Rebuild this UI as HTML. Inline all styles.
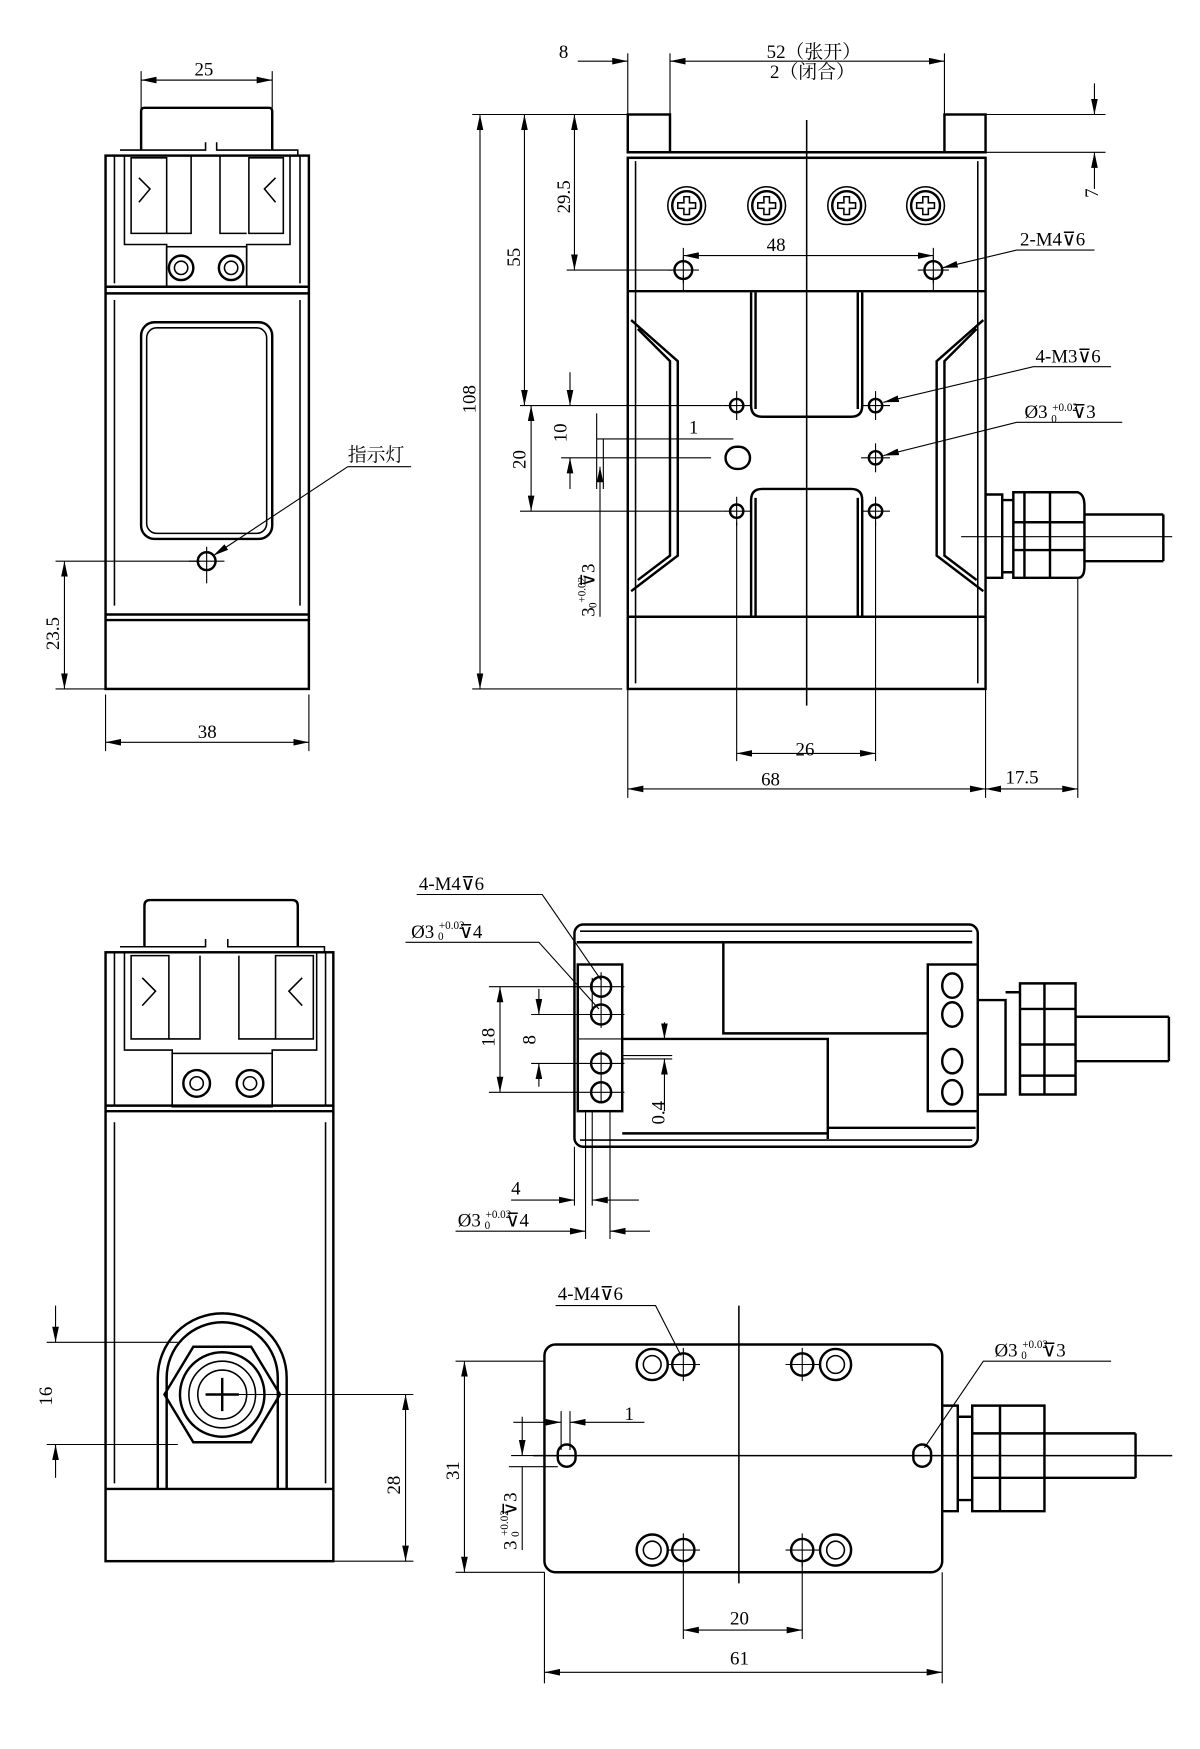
<!DOCTYPE html>
<html><head><meta charset="utf-8"><style>
html,body{margin:0;padding:0;background:#fff}
svg{display:block}
text{font-family:"Liberation Serif","Noto Serif CJK SC",serif;font-size:17px;fill:#000}
.t{fill:none;stroke:#000;stroke-width:2.2}
.m{fill:none;stroke:#000;stroke-width:1.4}
.d{fill:none;stroke:#000;stroke-width:1}
</style></head><body>
<svg width="1200" height="1749" viewBox="0 0 1080 1574" xmlns="http://www.w3.org/2000/svg">
<defs>
<marker id="a" viewBox="0 0 14 6" refX="14" refY="3" markerWidth="14" markerHeight="6" markerUnits="userSpaceOnUse" orient="auto-start-reverse"><path d="M0,0 L14,3 L0,6z" fill="#000"/></marker>
<g id="scr"><circle r="17" class="m"/><circle r="13" class="t"/><path d="M-8,-2.5h5.5v-5.5h5v5.5h5.5v5h-5.5v5.5h-5v-5.5h-5.5z" class="m"/></g>
<g id="hole"><circle r="8" class="t"/><path d="M-14,0h28M0,-12v24" class="d"/></g>
</defs>

<!-- ===== TOP LEFT VIEW ===== -->
<g>
<path d="M127,135 V100 Q127,97 130,97 H242 Q245,97 245,100 V135" class="t"/>
<rect x="95" y="140" width="183" height="480" class="t"/>
<path d="M108,135 H185 V128 M195,128 V135 H268 V140" class="m"/>
<path d="M103,140 V255 M270,140 V255 M112,140 V220 H150 V258 M261,140 V220 H222 V258" class="m"/>
<path d="M118,142 H150 V210 H118z M224,142 H255 V210 H224z" class="m"/>
<path d="M125,160 L135,170 L125,182 M248,160 L238,170 L248,182" class="m"/>
<path d="M150,210 H172 V140 M222,210 H198 V140" class="m"/>
<rect x="150" y="222" width="72" height="36" class="m"/>
<circle cx="163" cy="241" r="11" class="t"/><circle cx="163" cy="241" r="6" class="m"/>
<circle cx="208" cy="241" r="11" class="t"/><circle cx="208" cy="241" r="6" class="m"/>
<path d="M95,258 H278 M95,264 H278 M95,553 H278 M95,558 H278" class="t"/>
<path d="M103,270 V545 M270,270 V545" class="m"/>
<rect x="127" y="290" width="118" height="195" rx="12" class="t"/>
<rect x="132" y="295" width="108" height="185" rx="9" class="m"/>
<circle cx="186" cy="505" r="8" class="t"/><path d="M170,505h32M186,492v33" class="d"/>
<path d="M313,420 H370 M313,420 L192,500" class="d" marker-end="url(#a)"/>
<text x="313" y="415">指示灯</text>
<path d="M127,97 V64 M245,97 V64 M127,72 H245" class="d"/>
<path d="M127,72 H245" class="d" marker-start="url(#a)" marker-end="url(#a)"/>
<text x="175" y="68">25</text>
<path d="M95,625 V676 M278,625 V676" class="d"/>
<path d="M95,668 H278" class="d" marker-start="url(#a)" marker-end="url(#a)"/>
<text x="178" y="664">38</text>
<path d="M50,505 H180 M50,620 H95" class="d"/>
<path d="M58,505 V620" class="d" marker-start="url(#a)" marker-end="url(#a)"/>
<text transform="translate(53,585) rotate(-90)">23.5</text>
</g>

<!-- ===== TOP RIGHT VIEW ===== -->
<g>
<rect x="565" y="103" width="38" height="34" class="t"/>
<rect x="850" y="103" width="37" height="34" class="t"/>
<path d="M565,137 H887 M565,142 H887" class="t"/>
<rect x="565" y="142" width="322" height="478" class="t"/>
<path d="M572,145 V615 M880,145 V615" class="m"/>
<use href="#scr" x="618" y="185"/><use href="#scr" x="690" y="185"/><use href="#scr" x="762" y="185"/><use href="#scr" x="833" y="185"/>
<use href="#hole" x="615" y="243"/><use href="#hole" x="840" y="243"/>
<path d="M565,262 H887" class="t"/>
<path d="M676,263 V365 Q676,375 686,375 H766 Q776,375 776,365 V263 M680,263 V368 M772,263 V368" class="t"/>
<path d="M676,555 V450 Q676,440 686,440 H766 Q776,440 776,450 V555 M680,555 V448 M772,555 V448" class="t"/>
<path d="M568,288 L610,325 V500 L568,532 M574,296 L603,325 V500 L574,522" class="t"/>
<path d="M885,288 L843,325 V500 L885,532 M879,296 L850,325 V500 L879,522" class="t"/>
<circle cx="663" cy="365" r="6" class="t"/><circle cx="788" cy="365" r="6" class="t"/>
<circle cx="663" cy="460" r="6" class="t"/><circle cx="788" cy="460" r="6" class="t"/>
<circle cx="788" cy="412" r="6" class="t"/>
<rect x="653" y="402" width="22" height="20" rx="10" class="t"/>
<path d="M650,365h26M663,352v26M775,365h26M788,352v26M650,460h26M663,447v26M775,460h26M788,447v26M775,412h26M788,399v26" class="d"/>
<path d="M565,555 H887" class="t"/>
<path d="M726,108 V635" class="m"/>
<path d="M887,445 H902 V520 H887 M902,450 H912 V515 H902 M912,443 H970 Q976,445 976,455 V510 Q976,520 970,520 H912z M922,443 V520 M945,443 V520 M912,470 H976 M912,495 H976" class="t"/>
<path d="M976,463 H1047 M976,505 H1047 M1047,463 V505" class="t"/>
<path d="M865,483 H1055" class="d"/>
<!-- dims -->
<path d="M565,103 V48 M603,103 V48 M850,103 V48" class="d"/>
<path d="M520,55 H565" class="d" marker-end="url(#a)"/>
<path d="M603,55 H850" class="d" marker-start="url(#a)" marker-end="url(#a)"/>
<text x="503" y="52">8</text>
<text x="690" y="52">52（张开）</text>
<text x="693" y="70">2（闭合）</text>
<path d="M887,103 H995 M887,137 H995" class="d"/>
<path d="M985,75 V103" class="d" marker-end="url(#a)"/>
<path d="M985,170 V137" class="d" marker-end="url(#a)"/>
<text transform="translate(988,178) rotate(-90)">7</text>
<path d="M425,103 H565 M425,620 H560" class="d"/>
<path d="M432,103 V620" class="d" marker-start="url(#a)" marker-end="url(#a)"/>
<text transform="translate(428,372) rotate(-90)">108</text>
<path d="M472,103 V365" class="d" marker-start="url(#a)" marker-end="url(#a)"/>
<text transform="translate(468,240) rotate(-90)">55</text>
<path d="M510,243 H605" class="d"/>
<path d="M517,103 V243" class="d" marker-start="url(#a)" marker-end="url(#a)"/>
<text transform="translate(513,192) rotate(-90)">29.5</text>
<path d="M468,365 H650 M468,460 H650 M505,412 H640" class="d"/>
<path d="M478,365 V460" class="d" marker-start="url(#a)" marker-end="url(#a)"/>
<text transform="translate(473,422) rotate(-90)">20</text>
<path d="M513,335 V365" class="d" marker-end="url(#a)"/>
<path d="M513,440 V412" class="d" marker-end="url(#a)"/>
<text transform="translate(510,398) rotate(-90)">10</text>
<path d="M537,372 V440 M543,395 V440" class="d"/>
<path d="M537,395 H660" class="d"/>
<text x="620" y="390">1</text>
<path d="M540,420 V555" class="d" marker-start="url(#a)"/>
<text transform="translate(535,555) rotate(-90)">3 <tspan font-size="10" dy="-8">+0.02</tspan><tspan font-size="10" dx="-28" dy="10">0</tspan><tspan dx="14" dy="-2">⊽3</tspan></text>
<path d="M615,248 V262 M840,248 V262 M615,223 V238 M840,223 V238" class="d"/>
<path d="M615,230 H840" class="d" marker-start="url(#a)" marker-end="url(#a)"/>
<text x="690" y="226">48</text>
<path d="M985,225 H915 L848,241" class="d" marker-end="url(#a)"/>
<text x="918" y="221">2-M4⊽6</text>
<path d="M1000,330 H930 L795,362" class="d" marker-end="url(#a)"/>
<text x="932" y="326">4-M3⊽6</text>
<path d="M1010,380 H915 L795,410" class="d" marker-end="url(#a)"/>
<text x="922" y="376">Ø3 <tspan font-size="10" dy="-6">+0.02</tspan><tspan font-size="10" dx="-24" dy="10">0</tspan><tspan dx="14" dy="-4">⊽3</tspan></text>
<path d="M663,470 V685 M788,470 V685" class="d"/>
<path d="M663,678 H788" class="d" marker-start="url(#a)" marker-end="url(#a)"/>
<text x="716" y="680">26</text>
<path d="M565,620 V718 M887,620 V718 M970,520 V718" class="d"/>
<path d="M565,710 H887" class="d" marker-start="url(#a)" marker-end="url(#a)"/>
<text x="685" y="707">68</text>
<path d="M887,710 H970" class="d" marker-start="url(#a)" marker-end="url(#a)"/>
<text x="905" y="705">17.5</text>
</g>

<!-- ===== BOTTOM LEFT VIEW ===== -->
<g>
<path d="M130,852 V815 Q130,810 135,810 H263 Q268,810 268,815 V852" class="t"/>
<rect x="95" y="857" width="205" height="548" class="t"/>
<path d="M108,852 H185 V845 M205,845 V852 H292 V857" class="m"/>
<path d="M103,857 V995 M293,857 V995 M112,857 V945 H155 V995 M285,857 V945 H245 V995" class="m"/>
<path d="M118,860 H152 V935 H118z M248,860 H282 V935 H248z" class="m"/>
<path d="M128,880 L140,892 L128,905 M272,880 L260,892 L272,905" class="m"/>
<path d="M152,935 H180 V860 M248,935 H215 V860" class="m"/>
<rect x="155" y="948" width="90" height="48" class="m"/>
<circle cx="177" cy="975" r="12" class="t"/><circle cx="177" cy="975" r="6" class="m"/>
<circle cx="225" cy="975" r="12" class="t"/><circle cx="225" cy="975" r="6" class="m"/>
<path d="M95,995 H300 M95,1000 H300" class="t"/>
<path d="M103,1010 V1335 M293,1010 V1335" class="m"/>
<path d="M142,1340 V1240 A58,58 0 0 1 258,1240 V1340 M150,1340 V1240 A50,50 0 0 1 250,1240 V1340" class="t"/>
<path d="M148,1255 L174,1212 H226 L252,1255 L226,1298 H174z" class="t"/>
<circle cx="200" cy="1255" r="38" class="t"/><circle cx="200" cy="1255" r="30" class="m"/><circle cx="200" cy="1255" r="22" class="m"/>
<path d="M185,1255h30M200,1240v30" class="t"/>
<path d="M95,1340 H300" class="t"/>
<path d="M42,1208 H160 M42,1300 H160 M200,1255 H372 M300,1405 H372" class="d"/>
<path d="M50,1175 V1208" class="d" marker-end="url(#a)"/>
<path d="M50,1330 V1300" class="d" marker-end="url(#a)"/>
<text transform="translate(47,1265) rotate(-90)">16</text>
<path d="M365,1255 V1405" class="d" marker-start="url(#a)" marker-end="url(#a)"/>
<text transform="translate(360,1345) rotate(-90)">28</text>
</g>

<!-- ===== BOTTOM MIDDLE VIEW ===== -->
<g>
<rect x="517" y="832" width="363" height="200" rx="8" class="t"/>
<path d="M522,838 H875 M522,1026 H875" class="m"/>
<path d="M519,848 H875 M651,848 V930 H835 M560,935 H745 V1025 M560,1020 H745" class="t"/>
<path d="M745,1015 H878" class="t"/>
<rect x="520" y="868" width="40" height="132" class="t"/>
<circle cx="541" cy="888" r="9" class="t"/><circle cx="541" cy="913" r="9" class="t"/>
<circle cx="541" cy="957" r="9" class="t"/><circle cx="541" cy="983" r="9" class="t"/>
<path d="M520,888h42M520,913h42M520,957h42M520,983h42M533,880v30M541,875v50M541,945v48M520,935H600" class="d"/>
<rect x="835" y="868" width="45" height="132" class="t"/>
<ellipse cx="857" cy="887" rx="9" ry="11" class="t"/><ellipse cx="857" cy="913" rx="9" ry="11" class="t"/>
<ellipse cx="857" cy="955" rx="9" ry="11" class="t"/><ellipse cx="857" cy="983" rx="9" ry="11" class="t"/>
<path d="M880,900 H905 V985 H880 M905,893 H918 V985 M918,885 H968 V985 H918z M918,908 H968 M918,940 H968 M918,968 H968 M940,885 V985" class="t"/>
<path d="M968,915 H1052 M968,955 H1052 M1052,915 V955" class="t"/>
<path d="M440,888 H520 M440,983 H520 M478,913 H520 M478,957 H520" class="d"/>
<path d="M450,888 V983" class="d" marker-start="url(#a)" marker-end="url(#a)"/>
<text transform="translate(445,942) rotate(-90)">18</text>
<path d="M485,890 V913" class="d" marker-end="url(#a)"/>
<path d="M485,978 V957" class="d" marker-end="url(#a)"/>
<text transform="translate(482,940) rotate(-90)">8</text>
<path d="M560,950 H605 M560,953 H605" class="d"/>
<path d="M598,920 V935" class="d" marker-end="url(#a)"/>
<path d="M598,1000 V953" class="d" marker-end="url(#a)"/>
<text transform="translate(598,1012) rotate(-90)">0.4</text>
<path d="M517,1032 V1085 M527,1000 V1115 M533,1000 V1085 M549,1000 V1115" class="d"/>
<path d="M460,1080 H517" class="d" marker-end="url(#a)"/>
<path d="M575,1080 H533" class="d" marker-end="url(#a)"/>
<text x="460" y="1075">4</text>
<path d="M410,1108 H527" class="d" marker-end="url(#a)"/>
<path d="M585,1108 H549" class="d" marker-end="url(#a)"/>
<text x="412" y="1104">Ø3 <tspan font-size="10" dy="-8">+0.02</tspan><tspan font-size="10" dx="-24" dy="10">0</tspan><tspan dx="14" dy="-2">⊽4</tspan></text>
<path d="M375,805 H488 L541,882" class="d"/>
<text x="377" y="801">4-M4⊽6</text>
<path d="M365,848 H485 L539,908" class="d"/>
<text x="370" y="844">Ø3 <tspan font-size="10" dy="-8">+0.02</tspan><tspan font-size="10" dx="-24" dy="10">0</tspan><tspan dx="14" dy="-2">⊽4</tspan></text>
</g>

<!-- ===== BOTTOM RIGHT VIEW ===== -->
<g>
<rect x="490" y="1210" width="358" height="205" rx="10" class="t"/>
<path d="M665,1175 V1425 M480,1310 H1055" class="m"/>
<circle cx="587" cy="1228" r="14" class="t"/><circle cx="587" cy="1228" r="8" class="m"/><circle cx="615" cy="1228" r="10" class="t"/>
<circle cx="752" cy="1228" r="14" class="t"/><circle cx="752" cy="1228" r="8" class="m"/><circle cx="722" cy="1228" r="10" class="t"/>
<circle cx="587" cy="1395" r="14" class="t"/><circle cx="587" cy="1395" r="8" class="m"/><circle cx="615" cy="1395" r="10" class="t"/>
<circle cx="752" cy="1395" r="14" class="t"/><circle cx="752" cy="1395" r="8" class="m"/><circle cx="722" cy="1395" r="10" class="t"/>
<path d="M600,1228h30M615,1213v30M707,1228h30M722,1213v30M600,1395h30M615,1380v30M707,1395h30M722,1380v30" class="d"/>
<rect x="502" y="1300" width="16" height="20" rx="8" class="t"/>
<rect x="822" y="1300" width="16" height="20" rx="8" class="t"/>
<path d="M848,1265 H862 V1360 H848 M862,1275 H875 V1350 H862 M875,1265 H940 V1360 H875z M875,1290 H940 M875,1330 H940 M900,1265 V1360" class="t"/>
<path d="M940,1290 H1022 M940,1330 H1022 M1022,1290 V1330" class="t"/>
<path d="M410,1225 H490 M410,1415 H490" class="d"/>
<path d="M418,1225 V1415" class="d" marker-start="url(#a)" marker-end="url(#a)"/>
<text transform="translate(413,1332) rotate(-90)">31</text>
<path d="M460,1310 H502 M458,1320 H502" class="d"/>
<path d="M470,1275 V1310" class="d" marker-end="url(#a)"/>
<path d="M470,1395 V1320" class="d"/>
<text transform="translate(465,1395) rotate(-90)">3 <tspan font-size="10" dy="-8">+0.02</tspan><tspan font-size="10" dx="-24" dy="10">0</tspan><tspan dx="14" dy="-2">⊽3</tspan></text>
<path d="M505,1270 V1305 M513,1270 V1305" class="d"/>
<path d="M462,1280 H505" class="d" marker-end="url(#a)"/>
<path d="M580,1280 H513" class="d" marker-end="url(#a)"/>
<text x="562" y="1278">1</text>
<path d="M615,1405 V1475 M722,1405 V1475 M490,1415 V1515 M848,1415 V1515" class="d"/>
<path d="M615,1467 H722" class="d" marker-start="url(#a)" marker-end="url(#a)"/>
<text x="657" y="1462">20</text>
<path d="M490,1505 H848" class="d" marker-start="url(#a)" marker-end="url(#a)"/>
<text x="657" y="1498">61</text>
<path d="M500,1175 H590 L613,1220" class="d"/>
<text x="502" y="1170">4-M4⊽6</text>
<path d="M1000,1225 H885 L832,1303" class="d"/>
<text x="895" y="1221">Ø3 <tspan font-size="10" dy="-8">+0.02</tspan><tspan font-size="10" dx="-24" dy="10">0</tspan><tspan dx="14" dy="-2">⊽3</tspan></text>
</g>
</svg>
</body></html>
